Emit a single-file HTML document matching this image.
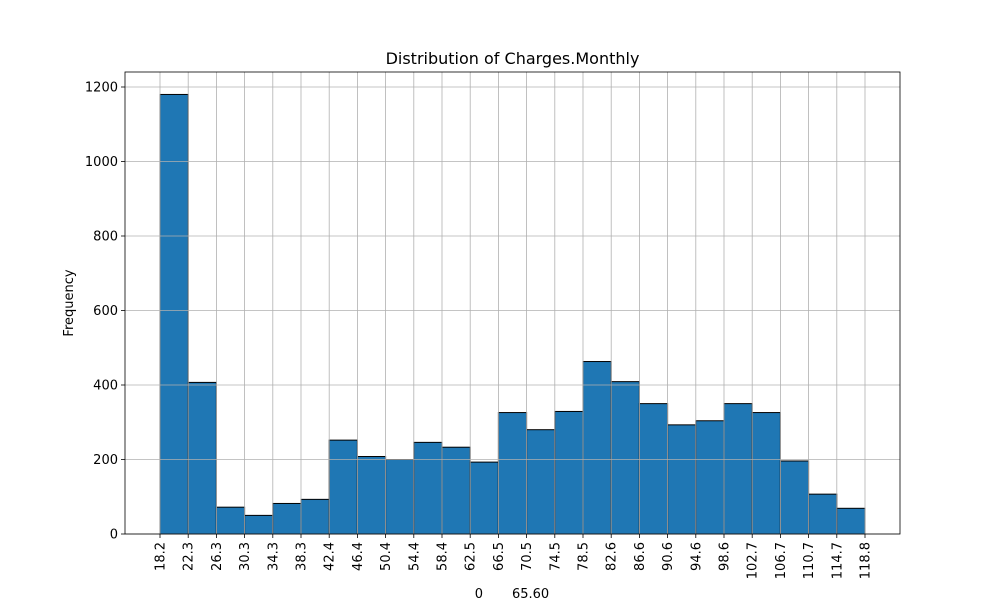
<!DOCTYPE html>
<html><head><meta charset="utf-8"><style>body{margin:0;background:#fff}svg{display:block;font-family:"DejaVu Sans","Liberation Sans",sans-serif}</style></head>
<body>
<svg id="chart" width="1000" height="600" viewBox="0 0 1000 600">
<rect x="0" y="0" width="1000" height="600" fill="#fff"/>
<g id="bars"></g>
<g id="grid"></g>
<g id="axes"></g>
<text x="512.5" y="64" font-size="16" text-anchor="middle">Distribution of Charges.Monthly</text>
<text transform="translate(73,303) rotate(-90)" font-size="13" text-anchor="middle">Frequency</text>
<text x="512" y="600" font-size="13" text-anchor="middle" dy="-2" style="white-space:pre" xml:space="preserve">0       65.60</text>
</svg>
<script>
const binEdges=[18.2,22.3,26.3,30.3,34.3,38.3,42.4,46.4,50.4,54.4,58.4,62.5,66.5,70.5,74.5,78.5,82.6,86.6,90.6,94.6,98.6,102.7,106.7,110.7,114.7,118.8];
const counts=[1180,407,72,50,82,93,252,208,200,246,233,193,326,280,329,463,409,350,293,304,350,326,196,107,69];
const yTicks=[0,200,400,600,800,1000,1200];
const NS="http://www.w3.org/2000/svg";
const L=125,R=900,T=72,B=534;
const n=counts.length;
function xPos(i){return 160+i*(865-160)/n;}
function yPos(v){return B-v*(B-87)/1200;}
function mk(tag,attrs,parent){const e=document.createElementNS(NS,tag);for(const k in attrs)e.setAttribute(k,attrs[k]);parent.appendChild(e);return e;}
const bars=document.getElementById('bars'),grid=document.getElementById('grid'),axes=document.getElementById('axes');
counts.forEach((c,i)=>{
 const r=mk('rect',{x:xPos(i),y:yPos(c),width:xPos(i+1)-xPos(i),height:B-yPos(c),fill:'#1f77b4',stroke:'#000','stroke-width':1},bars);
 
 
});
binEdges.forEach((e,i)=>{
 const x=xPos(i);
 const g=mk('line',{x1:x,x2:x,y1:T,y2:B,stroke:'#b0b0b0','stroke-width':0.8},grid);
 
 
 mk('line',{x1:x,x2:x,y1:B,y2:B+4,stroke:'#000','stroke-width':0.8},axes);
 const t=mk('text',{transform:`translate(${x+4.5},${B+8}) rotate(-90)`,'font-size':13,'text-anchor':'end'},axes);
 t.textContent=e.toFixed(1);
 
 
});
yTicks.forEach(v=>{
 const y=yPos(v);
 const g=mk('line',{x1:L,x2:R,y1:y,y2:y,stroke:'#b0b0b0','stroke-width':0.8},grid);
 
 
 mk('line',{x1:L-4,x2:L,y1:y,y2:y,stroke:'#000','stroke-width':0.8},axes);
 const t=mk('text',{x:L-7,y:y+4.5,'font-size':13,'text-anchor':'end'},axes);
 t.textContent=v;
 
 
});
const fr=mk('rect',{x:L,y:T,width:R-L,height:B-T,fill:'none',stroke:'#000','stroke-width':0.8},axes);


</script>
</body></html>
